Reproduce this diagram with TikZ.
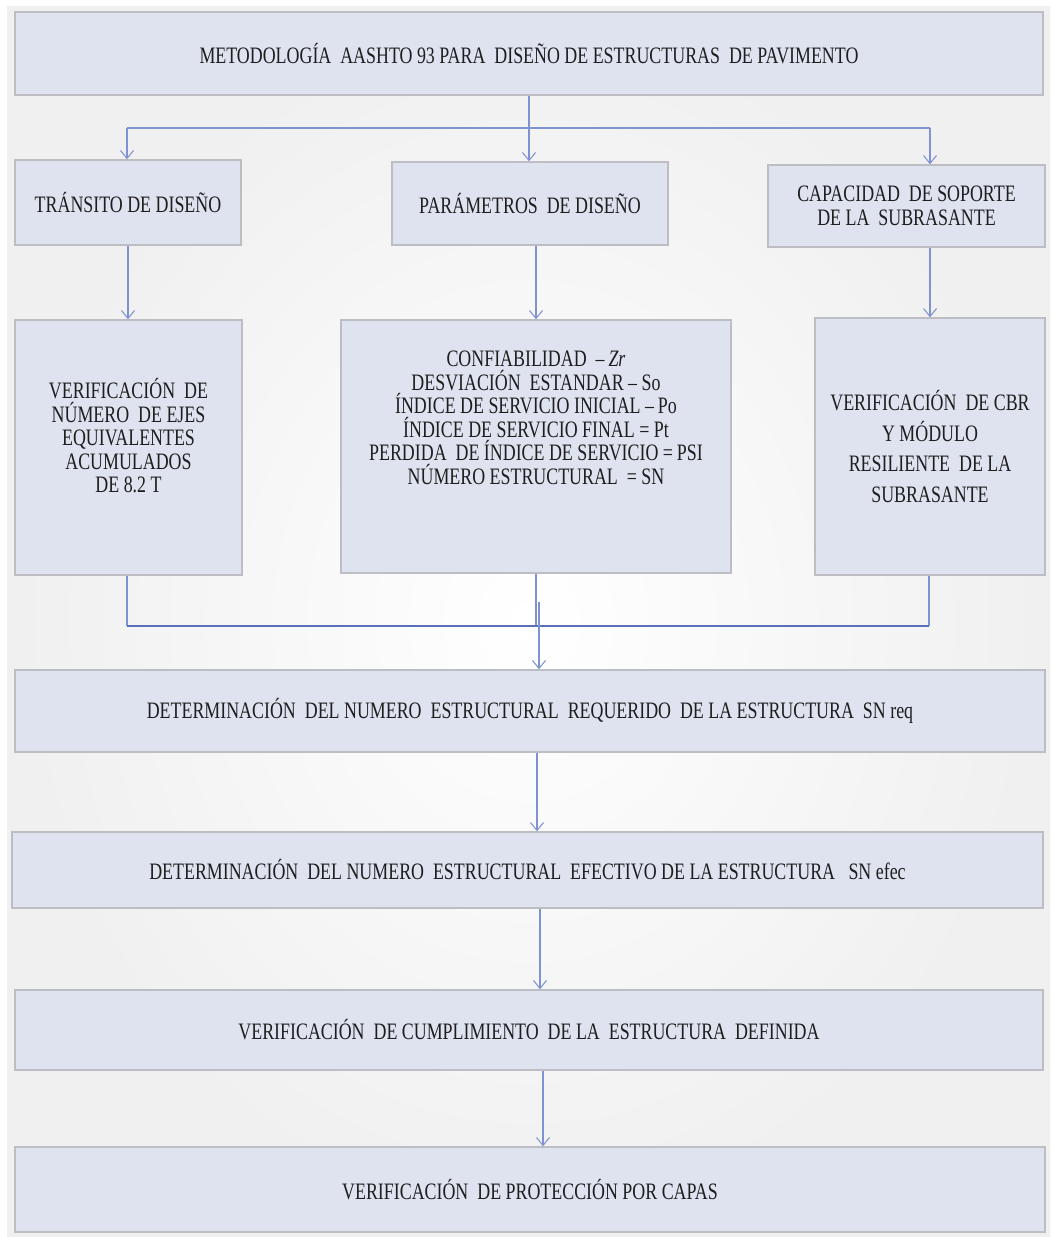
\documentclass[tikz,border=0pt]{standalone}
\usepackage{fontspec}
\setmainfont{Liberation Serif}[FakeStretch=0.76]
\usetikzlibrary{arrows.meta,calc,positioning}
\definecolor{Ink}{HTML}{1E1E1E}
\definecolor{Lavender}{HTML}{DFE3F0}
\definecolor{Frame}{HTML}{BCBEC3}
\definecolor{Wire}{HTML}{7F93D2}
\definecolor{WireDark}{HTML}{5B70B8}
\tikzset{
  stage/.style={
    draw=Frame, line width=0.8pt, fill=Lavender, text=Ink,
    align=center, inner sep=2pt, font=\fontsize{13.4}{13.4}\selectfont
  },
  flow/.style={-{Straight Barb[length=1.6mm,width=2.6mm]}, line width=0.6pt, draw=Wire},
  wire/.style={line width=0.6pt, draw=Wire},
  busline/.style={line width=1.1pt, draw=WireDark}
}

\begin{document}
\begin{tikzpicture}[x=0.02cm,y=-0.02cm]
  \useasboundingbox (0,0) rectangle (1053,1237);
  \shade[inner color=white, outer color=black!6] (7,7) rectangle (1050,1236);
  % titulo
  \node[stage, minimum width=20.56cm, minimum height=1.66cm] (title) at (529,53.5)
    {METODOLOGÍA \ AASHTO 93 PARA \ DISEÑO DE ESTRUCTURAS \ DE PAVIMENTO};
  % fila 1
  \node[stage, minimum width=4.52cm, minimum height=1.70cm] (traffic) at (128,202.5)
    {TRÁNSITO DE DISEÑO};
  \node[stage, minimum width=5.52cm, minimum height=1.66cm] (params) at (530,203.5)
    {PARÁMETROS \ DE DISEÑO};
  \node[stage, minimum width=5.54cm, minimum height=1.64cm] (support) at (906.5,206)
    {CAPACIDAD \ DE SOPORTE\\DE LA \ SUBRASANTE};
  % fila 2
  \node[stage, minimum width=4.54cm, minimum height=5.10cm] (axles) at (128.5,447.5)
    {VERIFICACIÓN \ DE\\NÚMERO \ DE EJES\\EQUIVALENTES\\ACUMULADOS\\DE 8.2 T\\ \mbox{}};
  \node[stage, minimum width=7.80cm, minimum height=5.06cm] (values) at (536,446.5)
    {CONFIABILIDAD \ --\,\textit{Zr}\\DESVIACIÓN \ ESTANDAR -- So\\ÍNDICE DE SERVICIO INICIAL --\,Po\\
     ÍNDICE DE SERVICIO FINAL = Pt\\PERDIDA \ DE ÍNDICE DE SERVICIO =\,PSI\\NÚMERO ESTRUCTURAL \ = SN\\
     \mbox{}\\[6pt] \mbox{}};
  \node[stage, minimum width=4.60cm, minimum height=5.14cm, font=\fontsize{13.4}{17.5}\selectfont] (cbr) at (930,446.5)
    {VERIFICACIÓN \ DE CBR\\Y MÓDULO\\RESILIENTE \ DE LA\\SUBRASANTE};
  % etapas finales
  \node[stage, minimum width=20.60cm, minimum height=1.64cm] (snreq) at (530,711)
    {DETERMINACIÓN \ DEL NUMERO \ ESTRUCTURAL \ REQUERIDO \ DE LA ESTRUCTURA \ SN req};
  \node[stage, minimum width=20.62cm, minimum height=1.52cm] (sneff) at (527.5,870)
    {DETERMINACIÓN \ DEL NUMERO \ ESTRUCTURAL \ EFECTIVO DE LA ESTRUCTURA \ \ SN efec};
  \node[stage, minimum width=20.56cm, minimum height=1.60cm] (check) at (529,1030)
    {VERIFICACIÓN \ DE CUMPLIMIENTO \ DE LA \ ESTRUCTURA \ DEFINIDA};
  \node[stage, minimum width=20.60cm, minimum height=1.70cm] (layers) at (530,1189.5)
    {VERIFICACIÓN \ DE PROTECCIÓN POR CAPAS};
  % conectores
  \coordinate (splitL) at (127,128);
  \coordinate (splitR) at (930,128);
  \coordinate (joinL) at (127,626);
  \coordinate (joinR) at (929,626);
  \coordinate (drop) at (539,602);
  \draw[wire] (splitL) -- (splitR);
  \draw[flow] (title.south) -- (title.south |- params.north);
  \draw[flow] (splitL) -- (splitL |- traffic.north);
  \draw[flow] (splitR) -- (splitR |- support.north);
  \draw[flow] (traffic.south) -- (traffic.south |- axles.north);
  \draw[flow] (values.north |- params.south) -- (values.north);
  \draw[flow] (cbr.north |- support.south) -- (cbr.north);
  \draw[wire] (joinL |- axles.south) -- (joinL);
  \draw[wire] (joinR |- cbr.south) -- (joinR);
  \draw[wire] (values.south) -- (values.south |- joinL);
  \draw[busline] (joinL) -- (joinR);
  \draw[flow] (drop) -- (drop |- snreq.north);
  \draw[flow] ([xshift=0.14cm]snreq.south) -- ([xshift=0.14cm]snreq.south |- sneff.north);
  \draw[flow] ([xshift=0.25cm]sneff.south) -- ([xshift=0.25cm]sneff.south |- check.north);
  \draw[flow] ([xshift=0.28cm]check.south) -- ([xshift=0.28cm]check.south |- layers.north);
\end{tikzpicture}
\end{document}
